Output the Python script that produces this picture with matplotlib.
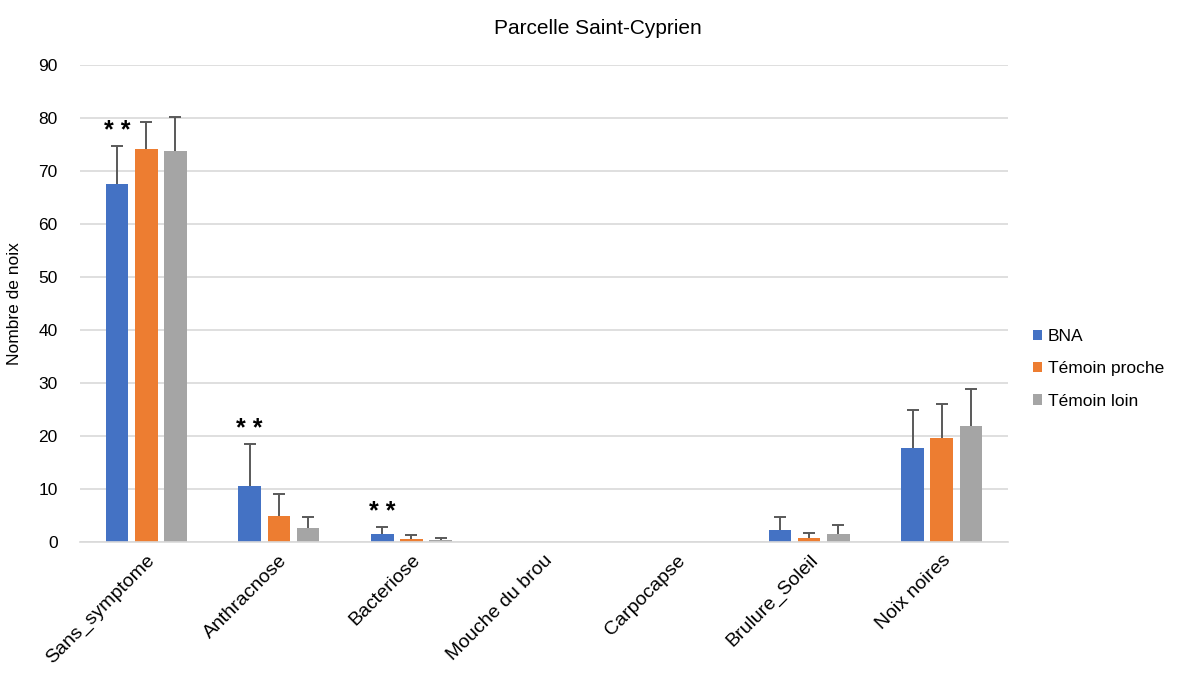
import matplotlib.pyplot as plt
import numpy as np

plt.rcParams['font.family'] = ['Liberation Sans', 'DejaVu Sans']

categories = ['Sans_symptome', 'Anthracnose', 'Bacteriose', 'Mouche du brou',
              'Carpocapse', 'Brulure_Soleil', 'Noix noires']
series = ['BNA', 'Témoin proche', 'Témoin loin']
bna = [67.5, 10.6, 1.5, 0, 0, 2.3, 17.8]
proche = [74.2, 4.9, 0.6, 0, 0, 0.8, 19.7]
loin = [73.8, 2.6, 0.4, 0, 0, 1.5, 21.8]
bna_err = [7.2, 7.9, 1.3, 0, 0, 2.4, 7.1]
proche_err = [5.0, 4.2, 0.7, 0, 0, 0.9, 6.4]
loin_err = [6.4, 2.1, 0.4, 0, 0, 1.7, 7.1]
stars = ['**', '**', '**', '', '', '', '']

colors = ['#4472c4', '#ed7d31', '#a5a5a5']

fig = plt.figure(figsize=(11.96, 6.75), dpi=100)
ax = fig.add_axes([80 / 1196, 1 - 542 / 675, 928 / 1196, 477 / 675])

x = np.arange(len(categories))
w = 0.17
step = 0.22
vals = [bna, proche, loin]
errs = [bna_err, proche_err, loin_err]
for i in range(3):
    pos = x + (i - 1) * step
    ax.bar(pos, vals[i], width=w, color=colors[i], label=series[i], zorder=2)
    e = np.array(errs[i])
    v = np.array(vals[i])
    mask = e > 0
    eb = ax.errorbar(pos[mask], v[mask], yerr=[np.zeros(mask.sum()), e[mask]],
                     fmt='none', ecolor='#595959', elinewidth=1.4, capsize=4,
                     capthick=1.4, zorder=3)
    # only keep the upper cap
    eb[1][0].set_visible(False)

for j, s in enumerate(stars):
    if s:
        ax.text(x[j] - step, bna[j] + bna_err[j] + 0.6, '* *', ha='center', va='bottom',
                fontsize=18, fontweight='bold', color='black')

ax.set_xlim(-0.5, len(categories) - 0.5)
ax.set_ylim(0, 90)
ax.set_yticks(np.arange(0, 91, 10))
ax.set_xticks(x)
ax.set_xticklabels(categories, rotation=45, ha='right', rotation_mode='anchor', fontsize=14)
ax.tick_params(axis='x', length=0, pad=7)
ax.tick_params(axis='y', length=0, labelsize=12.5, pad=16)
ax.grid(axis='y', color='#d9d9d9', linewidth=1.2, zorder=0)
ax.set_axisbelow(True)
for sp in ['top', 'right', 'left']:
    ax.spines[sp].set_visible(False)
ax.spines['bottom'].set_color('#d9d9d9')
ax.spines['bottom'].set_linewidth(1.2)

ax.set_ylabel('Nombre de noix', fontsize=12.5, labelpad=12)
fig.text(0.5, 1 - 28 / 675, 'Parcelle Saint-Cyprien', ha='center', va='center', fontsize=15)

ax.legend(loc='center left', bbox_to_anchor=(1.01, 0.363), frameon=False, fontsize=12.5,
          handlelength=0.55, handleheight=0.55, handletextpad=0.3, labelspacing=1.0)

fig.savefig('out.png', dpi=100)
